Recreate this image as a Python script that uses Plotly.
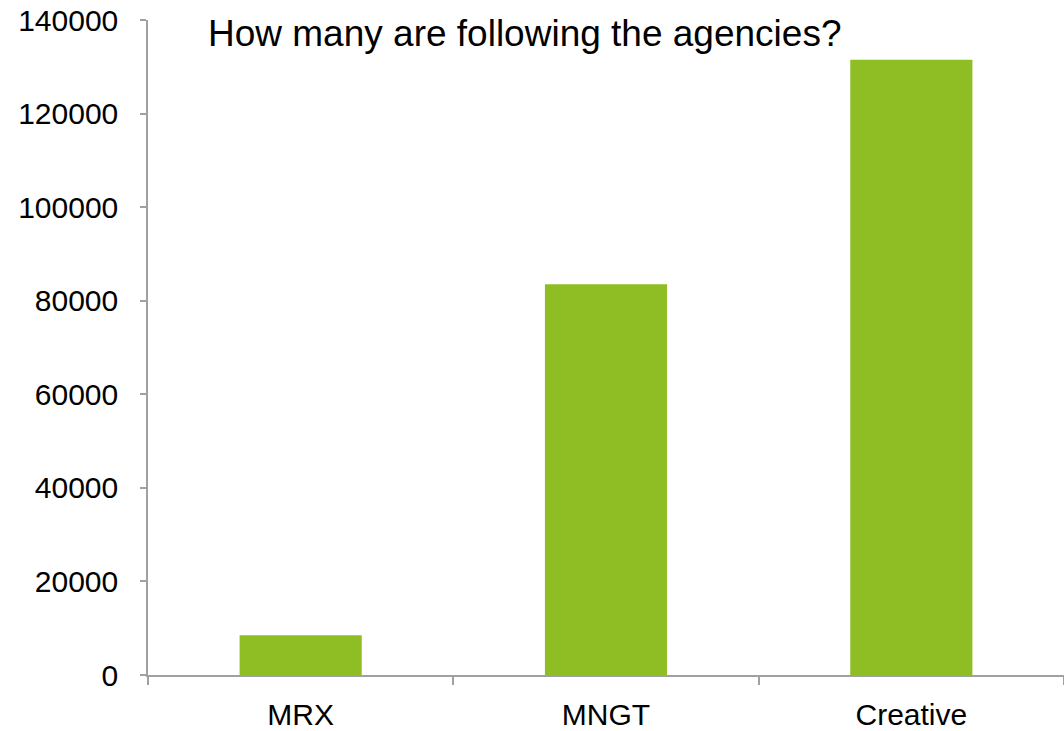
import plotly.graph_objects as go

# Followers per agency type
categories = ["MRX", "MNGT", "Creative"]
followers = [8500, 83500, 131500]
y_ticks = [0, 20000, 40000, 60000, 80000, 100000, 120000, 140000]
title_text = "How many are following the agencies?"

AXIS_GREY = "#a0a0a0"
BAR_GREEN = "#8fbe24"
FONT = "Liberation Sans, Arial, sans-serif"

fig = go.Figure(
    go.Bar(
        x=categories,
        y=followers,
        marker=dict(color=BAR_GREEN, line=dict(width=0)),
        width=0.4,
    )
)

fig.update_layout(
    width=1064,
    height=731,
    margin=dict(l=148, r=0, t=20, b=52),
    paper_bgcolor="white",
    plot_bgcolor="white",
    showlegend=False,
    font=dict(family=FONT, size=30, color="black"),
    annotations=[
        dict(
            text=title_text,
            xref="paper",
            yref="paper",
            x=(206 - 148) / 916,
            y=0.98,
            xanchor="left",
            yanchor="middle",
            showarrow=False,
            font=dict(family=FONT, size=37, color="black"),
        )
    ],
)

fig.update_xaxes(
    type="category",
    showline=True,
    linecolor=AXIS_GREY,
    linewidth=1.5,
    ticks="outside",
    tickson="boundaries",
    ticklen=8,
    tickwidth=1.5,
    tickcolor=AXIS_GREY,
    showgrid=False,
    ticklabelstandoff=12,
)

fig.update_yaxes(
    range=[0, 140000],
    tickvals=y_ticks,
    ticktext=[str(v) for v in y_ticks],
    showline=True,
    linecolor=AXIS_GREY,
    linewidth=1.5,
    ticks="outside",
    ticklen=6,
    tickwidth=1.5,
    tickcolor=AXIS_GREY,
    showgrid=False,
    zeroline=False,
    ticklabelstandoff=16,
)

fig.write_html("out.html")
